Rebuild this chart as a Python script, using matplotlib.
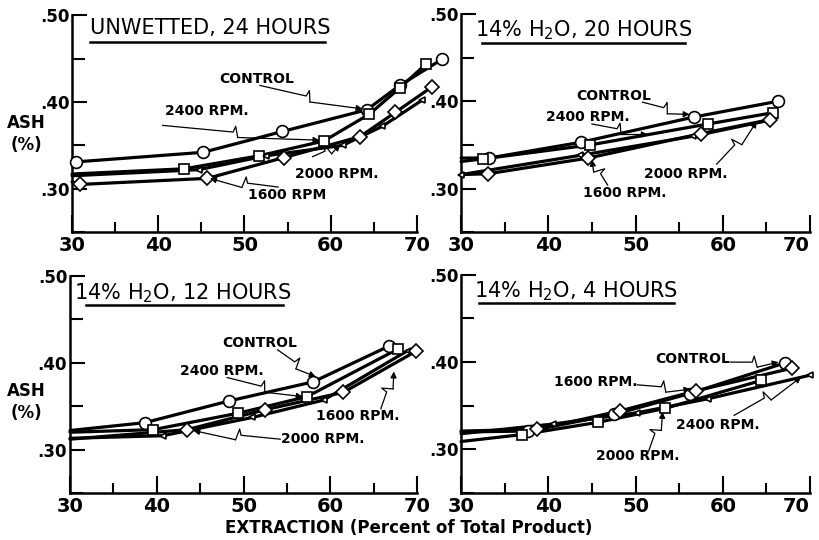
import numpy as np
import matplotlib.pyplot as plt
from matplotlib.ticker import MultipleLocator

# ash (%) against extraction (% of total product)
# first value of each curve is where the drawn line starts at the axis

# unwetted, 24 hours
uw_ctrl_x = [30.3, 30.5, 45.2, 54.4, 64.2, 68.0, 72.9]
uw_ctrl_y = [0.332, 0.331, 0.342, 0.366, 0.391, 0.419, 0.449]
uw_2400_x = [30.0, 43.0, 51.7, 59.2, 64.5, 68.0, 71.1]
uw_2400_y = [0.317, 0.323, 0.338, 0.355, 0.386, 0.416, 0.444]
uw_2000_x = [30.0, 44.7, 52.5, 61.4, 66.0, 70.6]
uw_2000_y = [0.315, 0.322, 0.338, 0.350, 0.372, 0.402]
uw_1600_x = [30.0, 30.9, 45.7, 54.6, 63.4, 67.5, 71.7]
uw_1600_y = [0.308, 0.305, 0.312, 0.336, 0.360, 0.388, 0.417]

# 14% H2O, 20 hours
h20_ctrl_x = [30.0, 33.2, 43.7, 56.7, 66.3]
h20_ctrl_y = [0.335, 0.335, 0.353, 0.382, 0.400]
h20_2400_x = [30.0, 32.5, 44.8, 58.3, 65.8]
h20_2400_y = [0.331, 0.334, 0.350, 0.374, 0.387]
h20_2000_x = [30.0, 43.6, 56.6, 65.2]
h20_2000_y = [0.316, 0.338, 0.360, 0.378]
h20_1600_x = [30.0, 33.1, 44.6, 57.5, 65.4]
h20_1600_y = [0.316, 0.317, 0.335, 0.363, 0.379]

# 14% H2O, 12 hours
h12_ctrl_x = [30.0, 38.6, 48.3, 58.0, 66.7]
h12_ctrl_y = [0.322, 0.331, 0.356, 0.378, 0.419]
h12_2400_x = [30.0, 39.6, 49.4, 57.3, 67.8]
h12_2400_y = [0.320, 0.323, 0.342, 0.361, 0.416]
h12_2000_x = [30.0, 40.7, 51.0, 59.2, 68.9]
h12_2000_y = [0.313, 0.316, 0.337, 0.357, 0.414]
h12_1600_x = [30.0, 43.5, 52.5, 61.5, 69.8]
h12_1600_y = [0.312, 0.323, 0.346, 0.366, 0.413]

# 14% H2O, 4 hours
h4_ctrl_x = [30.0, 37.7, 47.5, 56.2, 67.1]
h4_ctrl_y = [0.320, 0.321, 0.340, 0.364, 0.399]
h4_1600_x = [30.0, 38.7, 48.2, 56.9, 67.9]
h4_1600_y = [0.321, 0.323, 0.344, 0.367, 0.393]
h4_2000_x = [30.0, 37.0, 45.7, 53.4, 64.4]
h4_2000_y = [0.309, 0.317, 0.331, 0.347, 0.379]
h4_2400_x = [30.0, 40.5, 50.2, 58.3, 70.0]
h4_2400_y = [0.318, 0.329, 0.342, 0.358, 0.385]

x_ticks = [30, 40, 50, 60, 70]
y_ticks = [0.30, 0.40, 0.50]
y_tick_labels = ['.30', '.40', '.50']


def zigzag_arrow(ax, label, tx, ty, x0, y0, x1, y1):
    ax.text(tx, ty, label, ha='center', va='center', fontsize=10,
            fontweight='bold')
    p0 = ax.transData.transform((x0, y0))
    p1 = ax.transData.transform((x1, y1))
    v = p1 - p0
    u = v / np.hypot(*v)
    n = np.array([-u[1], u[0]])
    if n[1] < 0:
        n = -n
    a = p0 + v * 0.45
    # lightning break: up a little, then down past the line
    pts = np.array([p0, a, a + n * 6 + u * 2, a - n * 5 + u * 5])
    pts = ax.transData.inverted().transform(pts)
    ax.plot(pts[:, 0], pts[:, 1], color='k', lw=0.9, clip_on=False)
    ax.annotate('', xy=(x1, y1), xytext=tuple(pts[-1]),
                arrowprops=dict(arrowstyle='-|>', lw=0.9, color='k',
                                mutation_scale=9, shrinkA=0, shrinkB=0))


def draw_series(ax, xs, ys, marker, ms, first=1):
    ax.plot(xs, ys, color='k', lw=2.3, clip_on=False, solid_capstyle='round')
    ax.plot(xs[first:], ys[first:], ls='none', marker=marker, ms=ms,
            mfc='white', mec='k', mew=1.2, clip_on=False, zorder=3)


def setup(ax, title, tx, ty, ux0, ux1, uy, right=False):
    ax.set_xlim(30, 70)
    ax.set_ylim(0.25, 0.50)
    for s in ['top', 'right']:
        ax.spines[s].set_visible(False)
    for s in ['left', 'bottom']:
        ax.spines[s].set_linewidth(1.8)
    ax.set_xticks(x_ticks)
    labels = ax.set_xticklabels([str(t) for t in x_ticks], fontsize=14,
                                fontweight='bold')
    if right:
        labels[-1].set_horizontalalignment('right')
    ax.xaxis.set_minor_locator(MultipleLocator(5))
    ax.set_yticks(y_ticks)
    ax.set_yticklabels(y_tick_labels, fontsize=12, fontweight='bold')
    ax.yaxis.set_minor_locator(MultipleLocator(0.05))
    ax.tick_params(axis='x', which='major', direction='in', length=12,
                   width=1.5, pad=3)
    ax.tick_params(axis='x', which='minor', direction='in', length=7,
                   width=1.5)
    ax.tick_params(axis='y', which='major', direction='in', length=11,
                   width=1.5, pad=2)
    ax.tick_params(axis='y', which='minor', direction='in', length=9,
                   width=1.5)
    ax.text(tx, ty, title, ha='center', va='center', fontsize=15)
    ax.plot([ux0, ux1], [uy, uy], color='k', lw=1.8, clip_on=False)


fig = plt.figure(figsize=(8.19, 5.4), dpi=100)
ax_tl = fig.add_axes([0.088, 0.570, 0.421, 0.402])
ax_tr = fig.add_axes([0.563, 0.570, 0.426, 0.404])
ax_bl = fig.add_axes([0.0855, 0.087, 0.424, 0.402])
ax_br = fig.add_axes([0.563, 0.087, 0.426, 0.404])

# unwetted, 24 hours
ax = ax_tl
setup(ax, 'UNWETTED, 24 HOURS', 46.0, 0.485, 32.1, 59.4, 0.469)
draw_series(ax, uw_ctrl_x, uw_ctrl_y, 'o', 8.5)
draw_series(ax, uw_2400_x, uw_2400_y, 's', 7.5)
draw_series(ax, uw_2000_x, uw_2000_y, '<', 5)
draw_series(ax, uw_1600_x, uw_1600_y, 'D', 7.5)
zigzag_arrow(ax, 'CONTROL', 51.4, 0.427, 51.8, 0.419, 63.7, 0.392)
zigzag_arrow(ax, '2400 RPM.', 45.6, 0.390, 40.5, 0.373, 58.7, 0.356)
zigzag_arrow(ax, '2000 RPM.', 60.7, 0.317, 57.9, 0.337, 61.1, 0.351)
zigzag_arrow(ax, '1600 RPM', 55.0, 0.293, 53.9, 0.302, 46.0, 0.312)

# 14% H2O, 20 hours
ax = ax_tr
setup(ax, r'14% $\mathregular{H_2O}$, 20 HOURS', 44.0, 0.481, 32.4, 55.7,
      0.467, right=True)
draw_series(ax, h20_ctrl_x, h20_ctrl_y, 'o', 8.5)
draw_series(ax, h20_2400_x, h20_2400_y, 's', 7.5)
draw_series(ax, h20_2000_x, h20_2000_y, '<', 5, first=0)
draw_series(ax, h20_1600_x, h20_1600_y, 'D', 7.5)
zigzag_arrow(ax, 'CONTROL', 47.5, 0.406, 50.8, 0.399, 56.2, 0.385)
zigzag_arrow(ax, '2400 RPM.', 44.5, 0.382, 45.0, 0.374, 51.4, 0.362)
zigzag_arrow(ax, '2000 RPM.', 55.7, 0.317, 59.3, 0.328, 63.9, 0.377)
zigzag_arrow(ax, '1600 RPM.', 48.8, 0.295, 46.8, 0.304, 45.0, 0.333)

# 14% H2O, 12 hours
ax = ax_bl
setup(ax, r'14% $\mathregular{H_2O}$, 12 HOURS', 43.0, 0.480, 31.8, 54.5,
      0.466)
draw_series(ax, h12_ctrl_x, h12_ctrl_y, 'o', 8.5)
draw_series(ax, h12_2400_x, h12_2400_y, 's', 7.5)
draw_series(ax, h12_2000_x, h12_2000_y, '<', 5)
draw_series(ax, h12_1600_x, h12_1600_y, 'D', 7.5)
zigzag_arrow(ax, 'CONTROL', 51.8, 0.423, 53.9, 0.415, 58.3, 0.384)
zigzag_arrow(ax, '2400 RPM.', 47.5, 0.390, 48.1, 0.383, 56.8, 0.361)
zigzag_arrow(ax, '1600 RPM.', 63.1, 0.339, 65.8, 0.347, 67.3, 0.390)
zigzag_arrow(ax, '2000 RPM.', 59.1, 0.312, 54.2, 0.312, 44.2, 0.322)

# 14% H2O, 4 hours
ax = ax_br
setup(ax, r'14% $\mathregular{H_2O}$, 4 HOURS', 43.2, 0.481, 32.0, 54.4,
      0.468, right=True)
draw_series(ax, h4_ctrl_x, h4_ctrl_y, 'o', 8.5)
draw_series(ax, h4_1600_x, h4_1600_y, 'D', 7.5)
draw_series(ax, h4_2000_x, h4_2000_y, 's', 7.5)
draw_series(ax, h4_2400_x, h4_2400_y, '<', 5)
zigzag_arrow(ax, 'CONTROL', 56.6, 0.404, 60.9, 0.400, 66.4, 0.400)
zigzag_arrow(ax, '1600 RPM.', 45.4, 0.377, 50.2, 0.374, 56.3, 0.369)
zigzag_arrow(ax, '2000 RPM.', 50.2, 0.292, 51.5, 0.298, 53.1, 0.343)
zigzag_arrow(ax, '2400 RPM.', 59.4, 0.328, 61.3, 0.339, 69.0, 0.383)

fig.text(0.032, 0.752, 'ASH\n(%)', ha='center', va='center', fontsize=12,
         fontweight='bold', linespacing=1.3)
fig.text(0.032, 0.256, 'ASH\n(%)', ha='center', va='center', fontsize=12,
         fontweight='bold', linespacing=1.3)
fig.text(0.4994, 0.022, 'EXTRACTION (Percent of Total Product)',
         ha='center', va='center', fontsize=12, fontweight='bold')

fig.savefig('out.png', dpi=100, facecolor='white')
